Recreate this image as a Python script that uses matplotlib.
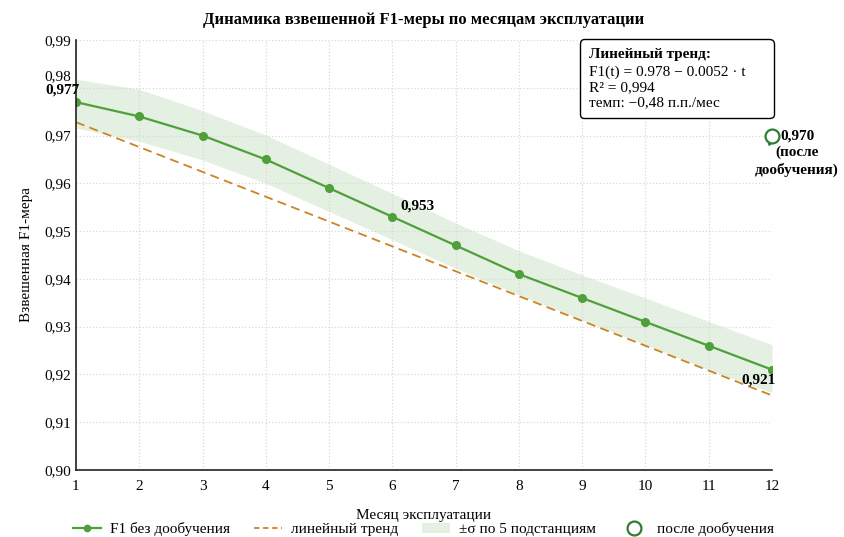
import numpy as np
import matplotlib.pyplot as plt
from matplotlib.ticker import FuncFormatter
from matplotlib.offsetbox import AnchoredOffsetbox, TextArea, VPacker, HPacker, DrawingArea
from matplotlib.transforms import ScaledTranslation
from matplotlib.lines import Line2D
from matplotlib.patches import Patch

plt.rcParams['font.family'] = ['Liberation Serif', 'DejaVu Serif']
plt.rcParams['font.size'] = 11

# данные
months = [1, 2, 3, 4, 5, 6, 7, 8, 9, 10, 11, 12]
f1 = [0.977, 0.974, 0.970, 0.965, 0.959, 0.953, 0.947, 0.941, 0.936, 0.931, 0.926, 0.921]
band_hi = [0.9818, 0.9797, 0.9752, 0.9701, 0.9640, 0.9579, 0.9517, 0.9459, 0.9408, 0.9360, 0.9311, 0.9262]
band_lo = [0.9716, 0.9688, 0.9649, 0.9600, 0.9541, 0.9482, 0.9422, 0.9367, 0.9314, 0.9262, 0.9210, 0.9162]
trend_a, trend_b = 0.978, -0.0052
retrain_month, retrain_f1 = 12, 0.970
yticks = [0.90, 0.91, 0.92, 0.93, 0.94, 0.95, 0.96, 0.97, 0.98, 0.99]

green = '#4f9f3a'
orange = '#cc8422'
dark_green = '#2e7d32'

fig = plt.figure(figsize=(8.44, 5.37), dpi=100)
ax = fig.add_axes([0.090, 0.1248, 0.8247, 0.8007])

t = np.array(months)
ax.fill_between(t, band_lo, band_hi, color=green, alpha=0.15, lw=0)
ax.plot(t, trend_a + trend_b * t, '--', color=orange, lw=1.3, dashes=(5, 3))
ax.plot(t, f1, '-o', color=green, lw=1.6, ms=5.5)

# точка после дообучения с маленьким "хвостиком"
tail = ax.transData + ScaledTranslation(-2 / 100, -5 / 100, fig.dpi_scale_trans)
ax.plot([retrain_month], [retrain_f1], marker=(3, 0, 160), color=dark_green, ms=6,
        transform=tail, clip_on=False, zorder=4)
ax.plot([retrain_month], [retrain_f1], 'o', mfc='white', mec=dark_green, mew=1.6, ms=10,
        zorder=5, clip_on=False)

fmt = lambda v: f"{v:.3f}".replace('.', ',')
ax.annotate(fmt(f1[0]), (1, f1[0]), xytext=(-10, 4), textcoords='offset points',
            ha='center', va='bottom', fontweight='bold', fontsize=11)
ax.annotate(fmt(f1[5]), (6, f1[5]), xytext=(6, 3), textcoords='offset points',
            ha='left', va='bottom', fontweight='bold', fontsize=11)
ax.annotate(fmt(f1[-1]), (12, f1[-1]), xytext=(3, -3), textcoords='offset points',
            ha='right', va='top', fontweight='bold', fontsize=11)
ax.annotate(fmt(retrain_f1) + "\n(после\nдообучения)", (retrain_month, retrain_f1),
            xytext=(18, -12.5), textcoords='offset points', ha='center', va='center',
            fontweight='bold', fontsize=11, linespacing=1.33, annotation_clip=False)

# блок с трендом
box = VPacker(children=[
    TextArea("Линейный тренд:", textprops=dict(fontweight='bold', fontsize=11)),
    TextArea("F1(t) = 0.978 \u2212 0.0052 \u00b7 t\nR\u00b2 = 0,994\nтемп: \u22120,48 п.п./мес",
             textprops=dict(fontsize=11, linespacing=1.2)),
], align='left', pad=0, sep=3)
box = HPacker(children=[box, DrawingArea(14, 1)], align='top', pad=0, sep=0)
anch = AnchoredOffsetbox(loc='upper left', child=box, pad=0.4, borderpad=0,
                         bbox_to_anchor=(0.728, 0.995), bbox_transform=ax.transAxes, frameon=True)
anch.patch.set_boxstyle('round,pad=0.2,rounding_size=0.3')
anch.patch.set_edgecolor('black')
anch.patch.set_linewidth(1.0)
ax.add_artist(anch)

ax.set_xlim(1, 12)
ax.set_ylim(0.90, 0.99)
ax.set_xticks(months)
ax.set_yticks(yticks)
ytl = lambda v, p: '' if abs(v - 0.98) < 1e-9 else f"{v:.2f}".replace('.', ',')
ax.yaxis.set_major_formatter(FuncFormatter(ytl))
# подпись 0,98 сдвинута вверх, как в оригинале (чтобы не налезать на 0,977)
ax.annotate("0,98", (0, 0.98), xycoords=ax.get_yaxis_transform(), xytext=(-3.6, 8),
            textcoords='offset points', ha='right', va='center', fontsize=11)
ax.tick_params(axis='x', length=0, labelsize=11, pad=7)
ax.tick_params(axis='y', length=0, labelsize=11, pad=3.6)
ax.grid(True, color='#d8d8d8', ls=':', lw=0.9)
for s in ['top', 'right']:
    ax.spines[s].set_visible(False)
for s in ['left', 'bottom']:
    ax.spines[s].set_color('#222222')
    ax.spines[s].set_linewidth(1.2)

ax.set_title("Динамика взвешенной F1-меры по месяцам эксплуатации", fontweight='bold', fontsize=12, pad=11.5)
ax.set_xlabel("Месяц эксплуатации", fontsize=11, labelpad=12)
ax.set_ylabel("Взвешенная F1-мера", fontsize=11, labelpad=8)

handles = [
    Line2D([], [], color=green, lw=1.6, marker='o', ms=4.5),
    Line2D([], [], color=orange, lw=1.3, ls='--', dashes=(3, 2)),
    Patch(facecolor=green, alpha=0.15, lw=0),
    Line2D([], [], ls='none', marker='o', mfc='white', mec=dark_green, mew=1.6, ms=10),
]
labels = ["F1 без дообучения", "линейный тренд", "\u00b1\u03c3 по 5 подстанциям", "после дообучения"]
fig.legend(handles, labels, loc='center', bbox_to_anchor=(0.502, 0.014), ncol=4,
           frameon=False, fontsize=11, columnspacing=1.6, handlelength=1.8,
           handletextpad=0.6, borderaxespad=0)

fig.savefig('out.png', dpi=100)
